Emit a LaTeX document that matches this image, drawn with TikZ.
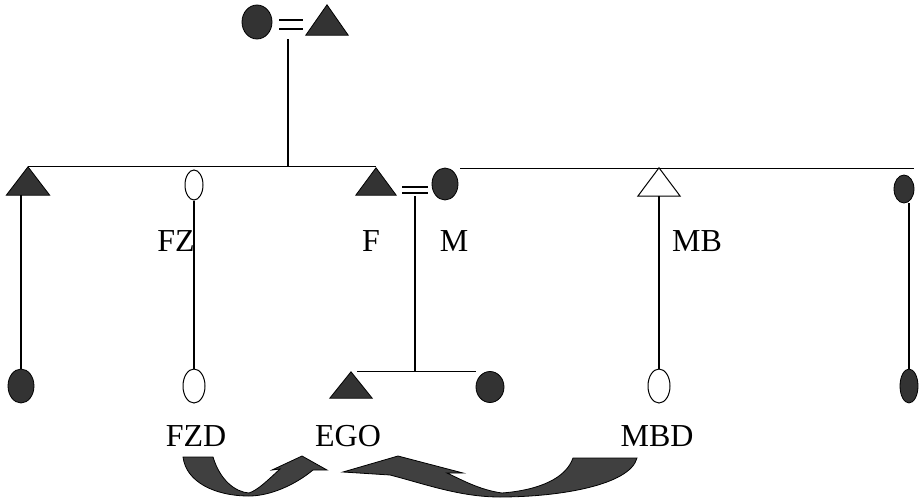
\documentclass[tikz,border=0pt]{standalone}
\usepackage{fontspec}
\setmainfont{Liberation Serif}
\usetikzlibrary{shapes.geometric}
\begin{document}
\begin{tikzpicture}[x=1pt,y=-1pt,
  ln/.style={line width=1.1pt},
  dark/.style={ellipse, draw=black, fill=black!80, inner sep=0, line width=0.8pt},
  light/.style={ellipse, draw=black, fill=white, inner sep=0, line width=1pt},
  tribox/.style={rectangle, inner sep=0, draw=none},
  trifill/.style={fill=black!80, draw=black, line width=0.8pt, line join=miter},
  triopen/.style={draw=black, fill=white, line width=1pt, line join=miter},
  lab/.style={font=\fontsize{32}{36}\selectfont, inner sep=0},
  bigarrow/.style={fill=black!75, draw=black, line width=0.8pt}]
\useasboundingbox (0,0) rectangle (924,501);

% top couple
\node[dark, minimum width=30, minimum height=34] (GM) at (257,22) {};
\node[tribox, minimum width=42, minimum height=30] (GF) at (327,20) {};
% second generation
\node[tribox, minimum width=43, minimum height=28] (LT) at (28,181) {};
\node[light, minimum width=18, minimum height=30] (FZ) at (194,185) {};
\node[tribox, minimum width=40, minimum height=27] (F) at (376,181.5) {};
\node[dark, minimum width=26, minimum height=32] (M) at (445,184) {};
\node[tribox, minimum width=42, minimum height=28] (MB) at (659,182) {};
\node[dark, minimum width=20, minimum height=28] (RT) at (904,189) {};
% third generation
\node[dark, minimum width=26, minimum height=34] (LB) at (21,386) {};
\node[light, minimum width=22, minimum height=34] (FZD) at (194,386) {};
\node[tribox, minimum width=42, minimum height=26] (EGO) at (351,385) {};
\node[dark, minimum width=28, minimum height=31] (EB) at (490,387) {};
\node[light, minimum width=22, minimum height=34] (MBD) at (659,386) {};
\node[dark, minimum width=18, minimum height=34] (RB) at (909,386) {};

% triangles
\foreach \t in {GF,LT,F,EGO}
  \path[trifill] (\t.south west) -- (\t.south east) -- (\t.north) -- cycle;
\path[triopen] (MB.south west) -- (MB.south east) -- (MB.north) -- cycle;

% marriage signs
\coordinate (eq1) at (291,24.5);
\draw[ln] (eq1) ++(-12,-4.5) -- ++(24,0);
\draw[ln] (eq1) ++(-12,4.5) -- ++(24,0);
\coordinate (eq2) at (415,190);
\draw[ln] (eq2) ++(-13,-3) -- ++(26,0);
\draw[ln] (eq2) ++(-13,3) -- ++(26,0);

% descent lines
\coordinate (mtop) at (288,39);
\draw[ln] (mtop) -- (mtop |- LT.north);
\draw[ln] (LT.north) -- (LT.north -| F.north);
\coordinate (mr) at (460,168.5);
\draw[ln] (mr) -- (mr -| RT.east);
\draw[ln] ([yshift=-6]eq2) -- (eq2 |- EGO.north);
\draw[ln] ([xshift=6]EGO.north) -- (EGO.north -| EB.west);
\draw[ln] (LB.north) -- (LB.north |- LT.south);
\draw[ln] (FZ.south) -- (FZD.north);
\draw[ln] (MB.south) -- (MBD.north);
\draw[ln] (RB.north) -- (RB.north |- RT.south);

% labels
\node[lab, anchor=east] (lFZ) at (195,241) {FZ};
\node[lab] (lF) at (371,241) {F};
\node[lab] (lM) at (454,241) {M};
\node[lab] (lMB) at (697,241) {MB};
\node[lab] (lFZD) at (196,436) {FZD};
\node[lab] (lEGO) at (348,436) {EGO};
\node[lab] (lMBD) at (657,436) {MBD};

% block arrows
\path[bigarrow] (183,457) -- (213,457)
  .. controls (220,480) and (235,492) .. (249,493)
  .. controls (258,490) and (268,480) .. (280,469)
  -- (272,470) -- (302,456) -- (327,470) -- (313,470)
  .. controls (295,485) and (270,496) .. (249,496)
  .. controls (215,496) and (186,482) .. (183,457) -- cycle;
\path[bigarrow] (637,458) -- (573,458)
  .. controls (566,478) and (540,490) .. (502,493)
  .. controls (480,490) and (462,480) .. (447,473)
  -- (463,473) -- (398,456) -- (343,472) -- (390,475)
  .. controls (425,484) and (460,497) .. (500,497)
  .. controls (560,497) and (630,485) .. (637,458) -- cycle;
\end{tikzpicture}
\end{document}
